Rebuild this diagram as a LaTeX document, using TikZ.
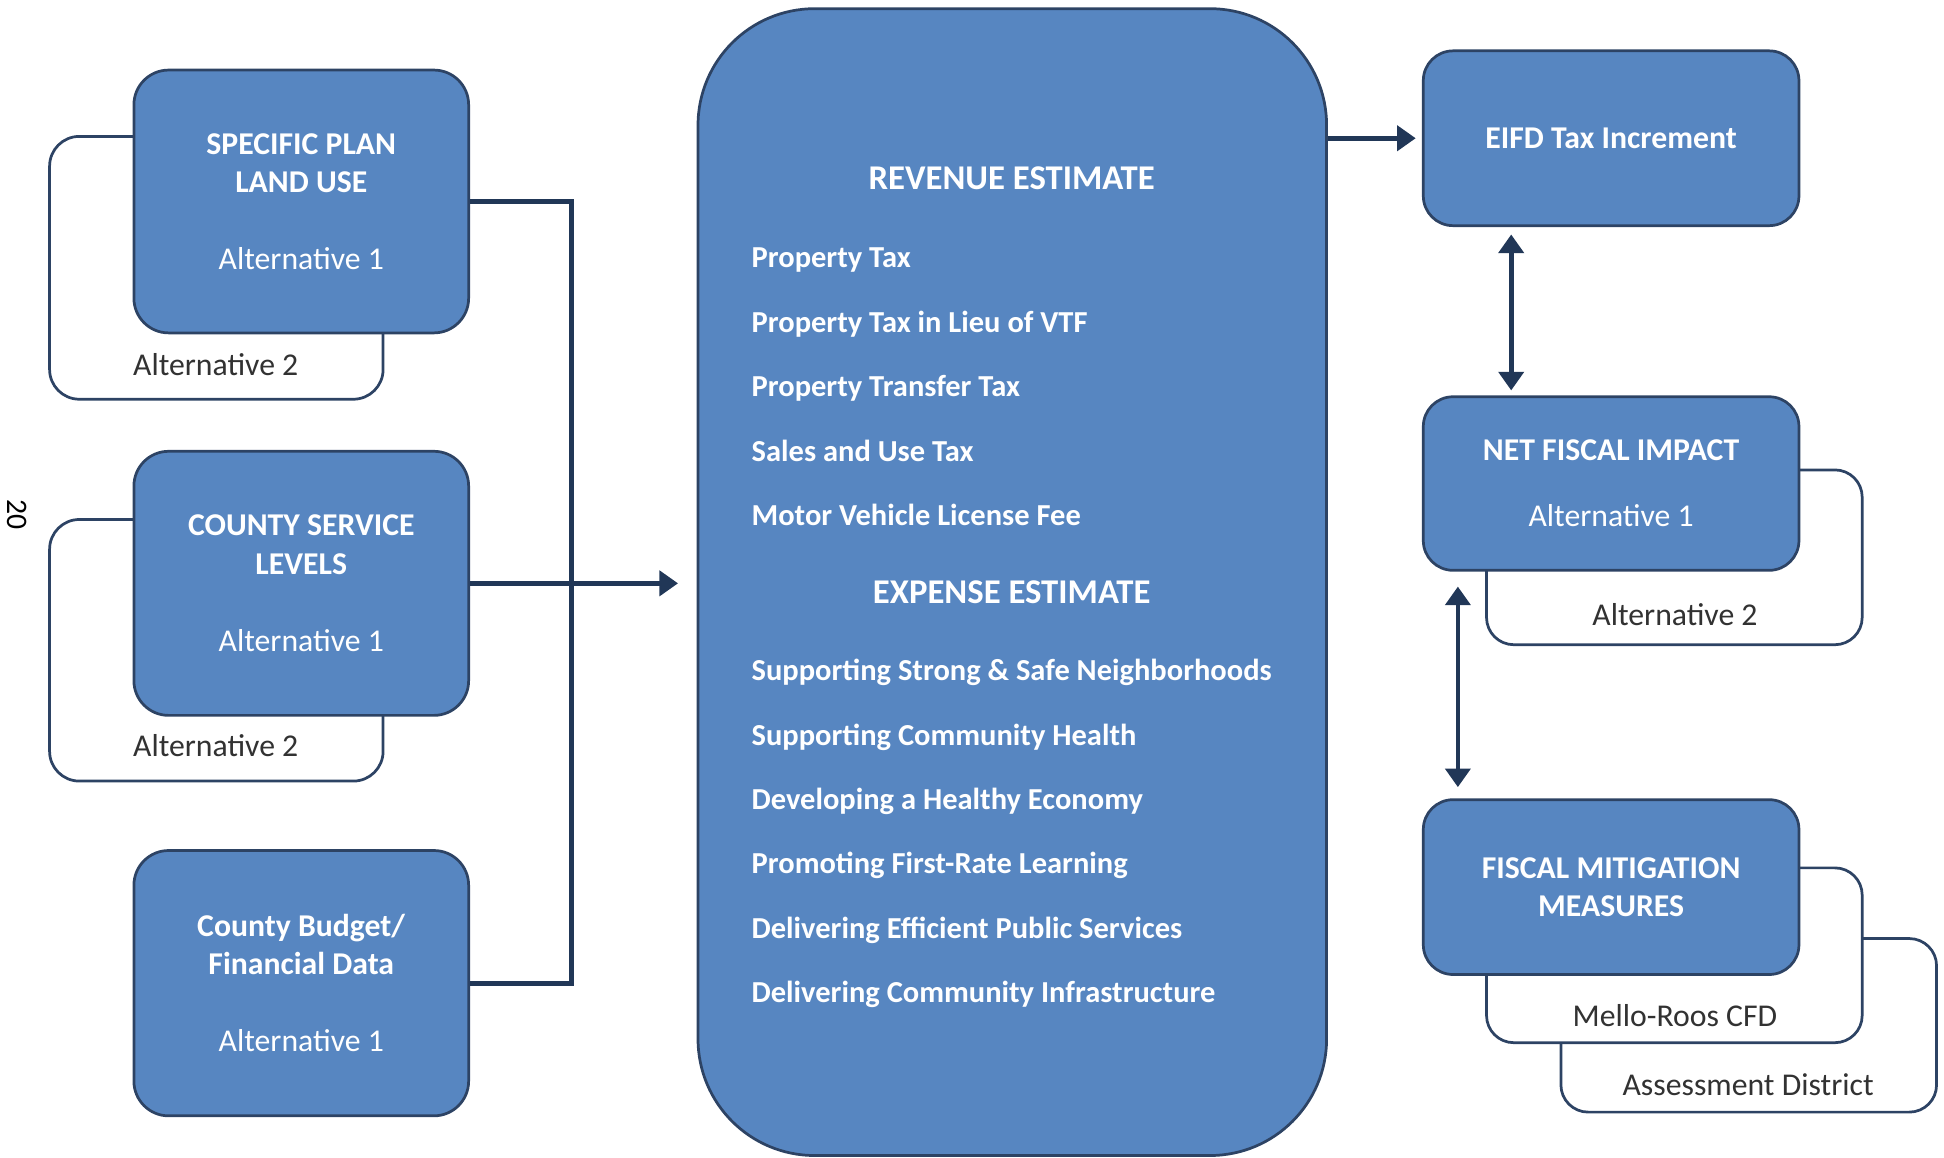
\documentclass[tikz,border=0pt]{standalone}
\usepackage{fontspec}
\setmainfont{Carlito}
\usepackage{tikz}
\usetikzlibrary{arrows.meta}

\definecolor{boxblue}{RGB}{87,134,193}
\definecolor{boxline}{RGB}{45,67,100}
\definecolor{linkblue}{RGB}{33,55,87}
\definecolor{alttext}{RGB}{50,50,50}

\newcommand{\esthead}[1]{\multicolumn{1}{@{}c@{}}{\fontsize{14}{26}\selectfont #1}}

\begin{document}
\begin{tikzpicture}[x=0.5pt,y=-0.5pt,
	every node/.style={font=\fontsize{12.8}{15.5}\selectfont},
	main/.style={draw=boxline, line width=1.1pt, fill=boxblue, rounded corners=14pt, text=white, align=center},
	alt/.style={draw=boxline, line width=1.1pt, fill=white, rounded corners=12pt},
	link/.style={draw=linkblue, line width=1.9pt},
	tip/.style={-{Triangle[length=7.5pt,width=10pt]}},
	both/.style={{Triangle[length=7.5pt,width=10pt]}-{Triangle[length=7.5pt,width=10pt]}}]
\useasboundingbox (0,0) rectangle (1568,934);

% page number
\node [rotate=-90, font=\fontsize{12}{14}\selectfont] (pg) at (14,415) {20};

% second alternatives, behind the blue boxes
\node [alt, minimum width=134.5pt, minimum height=106pt] (a2) at (174.5,216) {};
\node [alt, minimum width=134.5pt, minimum height=105.5pt] (b2) at (174.5,524.5) {};
\node [alt, rounded corners=11pt, minimum width=151.5pt, minimum height=70pt] (f3) at (1410.5,827) {};
\node [alt, rounded corners=11pt, minimum width=151.5pt, minimum height=70.5pt] (f2) at (1350.5,770.5) {};
\node [alt, rounded corners=11pt, minimum width=151.5pt, minimum height=70.5pt] (n2) at (1350.5,449.5) {};
\node [text=alttext] (a2t) at (174,294) {Alternative 2};
\node [text=alttext] (b2t) at (174,601) {Alternative 2};
\node [text=alttext] (n2t) at (1351,496) {Alternative 2};
\node [text=alttext] (f2t) at (1351,819) {Mello-Roos CFD};
\node [text=alttext] (f3t) at (1410,875) {Assessment District};

% inputs
\node [main, minimum width=135pt, minimum height=106pt] (a) at (243,162.5)
	{\textbf{SPECIFIC PLAN}\\\textbf{LAND USE}\\[15.5pt]Alternative 1};
\node [main, minimum width=135pt, minimum height=106.5pt] (b) at (243,470.5)
	{\textbf{COUNTY SERVICE}\\\textbf{LEVELS}\\[15.5pt]Alternative 1};
\node [main, minimum width=135pt, minimum height=107pt] (c) at (243,793)
	{\textbf{County Budget/}\\\textbf{Financial Data}\\[15.5pt]Alternative 1};

% estimates
\node [main, rounded corners=47pt, minimum width=253.5pt, minimum height=462.5pt] (m) at (816.5,469.5) {};
\node [text=white, font=\fontsize{12.3}{26}\selectfont\bfseries] (mt) at (816,470.5) {%
	\begin{tabular}{@{}l@{}}
	\esthead{REVENUE ESTIMATE}\\[5.5pt]
	Property Tax\\
	Property Tax in Lieu of VTF\\
	Property Transfer Tax\\
	Sales and Use Tax\\
	Motor Vehicle License Fee\\[5.5pt]
	\esthead{EXPENSE ESTIMATE}\\[5pt]
	Supporting Strong \& Safe Neighborhoods\\
	Supporting Community Health\\
	Developing a Healthy Economy\\
	Promoting First-Rate Learning\\
	Delivering Efficient Public Services\\
	Delivering Community Infrastructure
	\end{tabular}};

% results
\node [main, rounded corners=12pt, minimum width=151.5pt, minimum height=70.5pt] (e) at (1299.5,111.5)
	{\textbf{EIFD Tax Increment}};
\node [main, rounded corners=12pt, minimum width=151.5pt, minimum height=70pt] (n) at (1299.5,390)
	{\textbf{NET FISCAL IMPACT}\\[11pt]Alternative 1};
\node [main, rounded corners=12pt, minimum width=151.5pt, minimum height=70.5pt] (f) at (1299.5,715.5)
	{\textbf{FISCAL MITIGATION}\\\textbf{MEASURES}};

% connectors
\coordinate (j) at (461,471);
\draw [link] (a.east) -| (j) |- (c.east);
\draw [link, tip, shorten >=7.5pt] (b.east) -- (b.east -| m.west);
\draw [link, tip, shorten >=2.5pt] (m.east |- e.west) -- (e.west);
\draw [link, both, shorten <=3pt, shorten >=2pt] ([xshift=36pt]e.south west) -- ([xshift=36pt]n.north west);
\draw [link, both, shorten <=6pt, shorten >=4.5pt] ([xshift=14.5pt]n.south west) -- ([xshift=14.5pt]f.north west);
\end{tikzpicture}
\end{document}
